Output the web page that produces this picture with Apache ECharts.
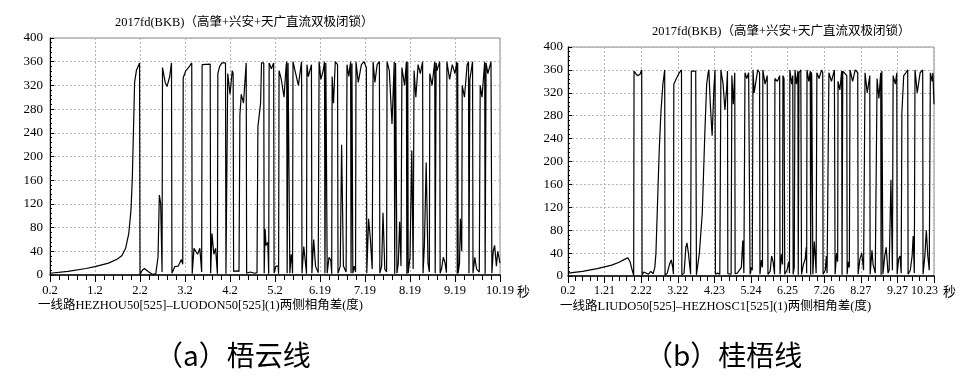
<!DOCTYPE html>
<html><head><meta charset="utf-8">
<script src="https://cdn.jsdelivr.net/npm/echarts@6/dist/echarts.min.js"></script>
<style>html,body{margin:0;padding:0;background:#fff}#c{width:967px;height:390px}</style>
</head><body><div id="c"></div>
<script>
// ---------- data ----------
const T0 = 0.2; // first time on both time axes (s)
const TITLE = '2017fd(BKB)（高肇+兴安+天广直流双极闭锁）';
const X_LABELS_A = ['0.2','1.2','2.2','3.2','4.2','5.2','6.19','7.19','8.19','9.19','10.19'];
const X_LABELS_B = ['0.2','1.21','2.22','3.22','4.23','5.24','6.25','7.26','8.27','9.27','10.23'];
const Y_LABELS = ['0','40','80','120','160','200','240','280','320','360','400'];
const NAME_A = '一线路HEZHOU50[525]–LUODON50[525](1)两侧相角差(度)';
const NAME_B = '一线路LIUDO50[525]–HEZHOSC1[525](1)两侧相角差(度)';
const CAP_A = '（a）梧云线';
const CAP_B = '（b）桂梧线';

// [time s, angle deg]
const ANGLE_A = [
[0.2,3],[0.6,6],[1.0,11],[1.2,14],[1.5,20],[1.7,27],[1.8,33],[1.88,45],[1.95,70],[2.0,110],[2.03,165],[2.06,260],[2.08,325],[2.12,345],[2.19,358],
[2.2,1],[2.25,8],[2.3,11],[2.38,6],[2.48,1],[2.55,2],[2.6,30],[2.63,135],[2.66,120],[2.69,5],
[2.7,350],[2.76,325],[2.8,318],[2.86,335],[2.9,358],
[2.91,3],[2.97,14],[3.05,15],[3.12,26],[3.15,18],
[3.16,333],[3.22,345],[3.3,352],[3.35,358],
[3.36,2],[3.4,45],[3.44,48],[3.48,35],[3.53,45],[3.57,5],
[3.58,355],[3.76,356],
[3.77,3],[3.8,70],[3.84,35],[3.88,45],[3.92,2],
[3.93,340],[3.97,352],[4.02,358],[4.1,358],
[4.11,2],[4.14,5],
[4.15,340],[4.2,305],[4.25,345],[4.27,340],
[4.28,6],[4.35,7],[4.4,6],
[4.42,270],[4.45,305],[4.5,290],[4.56,358],
[4.57,3],[4.65,5],[4.75,3],[4.8,4],
[4.82,250],[4.88,290],[4.9,358],[4.95,358],
[4.96,3],[4.98,78],[5.0,50],[5.04,55],[5.06,2],
[5.07,358],[5.12,348],[5.17,358],
[5.18,3],[5.22,15],[5.27,15],[5.28,2],
[5.29,345],[5.34,330],[5.4,300],[5.45,355],[5.46,360],[5.47,3],[5.48,2],[5.49,358],[5.52,360],
[5.53,3],[5.56,35],[5.58,20],[5.59,3],
[5.6,360],[5.66,340],[5.72,320],[5.79,360],
[5.8,3],[5.84,48],[5.88,45],[5.9,2],
[5.91,355],[5.94,335],[5.98,335],[6.01,355],
[6.02,3],[6.06,60],[6.1,15],[6.16,4],
[6.18,360],[6.22,330],[6.27,345],[6.3,360],[6.31,3],[6.32,4],[6.33,358],[6.35,358],
[6.36,3],[6.4,30],[6.44,25],[6.46,2],
[6.47,335],[6.5,290],[6.54,360],[6.59,355],
[6.6,3],[6.65,15],[6.68,220],[6.72,15],[6.78,5],
[6.8,355],[6.84,335],[6.88,360],[6.89,3],[6.9,2],[6.91,357],[6.92,355],
[6.93,3],[6.96,15],[6.99,5],
[7.0,360],[7.05,325],[7.12,355],[7.18,360],[7.23,350],
[7.24,3],[7.28,95],[7.32,60],[7.36,10],
[7.38,360],[7.42,325],[7.47,355],[7.52,360],
[7.53,3],[7.57,15],[7.6,105],[7.64,10],[7.68,5],
[7.69,360],[7.74,345],[7.8,255],[7.85,360],[7.86,2],[7.87,3],[7.88,358],[7.9,355],
[7.91,3],[7.94,20],[7.97,90],[8.0,15],
[8.02,350],[8.08,320],[8.12,360],[8.13,2],[8.14,3],[8.15,360],
[8.16,3],[8.2,30],[8.24,210],[8.27,10],
[8.29,345],[8.33,300],[8.38,355],[8.43,340],[8.48,360],
[8.49,3],[8.52,50],[8.56,190],[8.6,20],[8.63,5],
[8.64,340],[8.69,320],[8.75,360],[8.76,3],[8.77,2],[8.78,358],[8.8,345],[8.86,360],
[8.87,3],[8.9,10],[8.94,30],[8.98,20],[9.01,4],
[9.02,360],[9.08,330],[9.14,355],[9.2,340],[9.24,360],[9.25,2],[9.26,358],
[9.27,3],[9.3,20],[9.32,95],[9.35,40],
[9.36,320],[9.41,300],[9.47,355],[9.5,360],[9.51,3],[9.52,2],[9.53,330],[9.59,360],
[9.6,3],[9.64,30],[9.68,10],[9.74,5],
[9.76,320],[9.8,300],[9.86,360],[9.87,2],[9.88,3],[9.89,358],[9.93,340],[10.0,360],
[10.02,3],[10.05,40],[10.08,50],[10.12,15],[10.15,40],[10.2,20]
];

// [time s, angle deg]
const ANGLE_B = [
[0.2,5],[0.6,8],[1.0,13],[1.4,19],[1.6,24],[1.75,29],[1.84,32],[1.9,25],[1.96,10],[2.0,1],
[2.01,358],[2.05,360],[2.1,350],[2.17,352],[2.22,360],
[2.23,2],[2.28,7],[2.33,5],[2.4,3],[2.47,8],[2.53,4],[2.58,15],[2.61,40],[2.65,120],[2.7,220],[2.75,290],[2.8,335],[2.85,360],
[2.86,1],[2.92,5],[2.98,20],[3.03,28],[3.07,15],[3.09,3],
[3.1,335],[3.17,345],[3.25,355],[3.31,360],
[3.32,2],[3.38,5],[3.43,50],[3.46,58],[3.5,40],[3.56,3],
[3.58,358],[3.7,358],
[3.72,2],[3.8,40],[3.88,110],[3.95,250],[4.0,335],[4.04,355],[4.06,360],[4.1,300],[4.15,245],[4.2,330],[4.23,360],
[4.24,3],[4.3,5],[4.36,3],
[4.39,360],[4.45,335],[4.5,290],[4.55,330],[4.57,358],
[4.58,4],[4.63,6],[4.67,3],
[4.69,350],[4.73,300],[4.77,355],
[4.78,4],[4.84,5],[4.95,15],[4.99,62],[5.02,5],
[5.05,355],[5.1,345],[5.15,355],[5.18,358],
[5.19,3],[5.22,15],[5.25,10],
[5.27,360],[5.3,320],[5.35,340],[5.4,360],[5.45,355],
[5.46,3],[5.5,28],[5.53,15],
[5.54,360],[5.6,335],[5.66,350],
[5.68,3],[5.74,8],[5.78,35],[5.82,25],[5.86,3],
[5.87,345],[5.94,340],[6.0,350],
[6.01,3],[6.05,38],[6.08,20],
[6.09,350],[6.12,345],
[6.14,3],[6.2,10],[6.25,25],[6.27,5],
[6.28,360],[6.33,335],[6.36,350],
[6.37,3],[6.4,15],
[6.42,360],[6.46,335],[6.5,358],[6.51,2],[6.52,3],[6.53,355],[6.58,360],
[6.6,3],[6.65,20],[6.7,30],[6.73,50],[6.74,5],
[6.75,360],[6.8,340],[6.84,358],[6.85,2],[6.86,3],[6.87,356],[6.88,350],
[6.91,3],[6.95,60],[6.98,30],[7.0,5],
[7.02,355],[7.08,345],[7.15,360],[7.18,355],
[7.19,3],[7.25,10],[7.28,35],[7.3,5],
[7.35,355],[7.42,340],[7.5,360],
[7.52,3],[7.56,40],[7.59,25],
[7.6,340],[7.65,325],[7.7,358],[7.71,2],[7.72,3],[7.73,358],[7.75,355],[7.84,350],
[7.85,3],[7.88,25],[7.91,15],
[7.93,360],[8.0,340],[8.07,360],[8.14,355],
[8.15,3],[8.2,30],[8.25,40],[8.3,10],
[8.34,355],[8.4,320],[8.47,350],
[8.48,3],[8.53,45],[8.56,20],[8.62,5],
[8.67,345],[8.72,310],[8.77,355],[8.78,2],[8.79,3],[8.8,358],[8.82,360],
[8.83,3],[8.88,35],[8.92,50],[8.97,5],[9.0,10],[9.05,168],[9.09,10],
[9.11,350],[9.17,335],[9.21,355],
[9.22,3],[9.26,30],[9.3,35],[9.33,5],
[9.35,285],[9.4,350],[9.46,355],[9.51,360],
[9.52,3],[9.58,10],[9.63,35],[9.66,70],[9.69,5],
[9.71,360],[9.77,320],[9.85,355],[9.92,360],
[9.93,3],[9.98,35],[10.02,80],[10.06,35],[10.1,10],
[10.13,355],[10.18,340],[10.2,355],[10.23,300]
];

// ---------- chart ----------
const B_STEP = 1.003;
const serif = "'Liberation Serif','Noto Sans CJK SC',serif";
const chart = echarts.init(document.getElementById('c'), null, {renderer:'canvas'});

function yAxis(gi, margin){
  return {
    type:'value', gridIndex:gi, min:0, max:400, interval:40,
    axisLine:{show:true, lineStyle:{color:'#000', width:1}},
    axisTick:{show:true, inside:true, length:4, lineStyle:{color:'#000'}},
    minorTick:{show:true, splitNumber:5, length:2, lineStyle:{color:'#000'}},
    axisLabel:{color:'#000', fontFamily:serif, fontSize:13, margin:margin,
      formatter:v => Y_LABELS[Math.round(v/40)]},
    splitLine:{show:true, lineStyle:{color:'#b5b5b5', type:[2,2], width:1}}
  };
}
function xAxis(gi, max, interval, fmt, showMax, fs){
  return {
    type:'value', gridIndex:gi, min:0, max:max, interval:interval,
    axisLine:{show:true, onZero:false, lineStyle:{color:'#000', width:1.5}},
    axisTick:{show:true, inside:false, length:7, lineStyle:{color:'#000', width:1}},
    minorTick:{show:true, splitNumber:5, length:5, lineStyle:{color:'#000', width:1}},
    axisLabel:{color:'#000', fontFamily:serif, fontSize:fs, margin:9, formatter:fmt,
      hideOverlap:false, showMinLabel:true, showMaxLabel:showMax},
    splitLine:{show:true, lineStyle:{color:'#b5b5b5', type:[2,2], width:1}}
  };
}

const option = {
  animation:false,
  backgroundColor:'#fff',
  grid:[
    {left:50, top:38, right:467, bottom:115, show:true, borderColor:'#8a8a8a', borderWidth:1},
    {left:568, top:47, right:33, bottom:114, show:true, borderColor:'#8a8a8a', borderWidth:1}
  ],
  xAxis:[
    xAxis(0, 10, 1, v => X_LABELS_A[Math.round(v)], true, 12.5),
    xAxis(1, 10 * B_STEP, B_STEP, v => X_LABELS_B[Math.round(v / B_STEP)], false, 12)
  ],
  yAxis:[yAxis(0,7), yAxis(1,5)],
  series:[
    {type:'line', xAxisIndex:0, yAxisIndex:0, symbol:'none', data:ANGLE_A.map(p=>[p[0]-T0,p[1]]),
     lineStyle:{color:'#000', width:1.2}},
    {type:'line', xAxisIndex:1, yAxisIndex:1, symbol:'none', data:ANGLE_B.map(p=>[p[0]-T0,p[1]]),
     lineStyle:{color:'#000', width:1.2}}
  ],
  graphic:[
    {type:'text', left:115, top:16, style:{text:TITLE, font:"12.5px "+serif, fill:'#000'}},
    {type:'text', left:652, top:25, style:{text:TITLE, font:"12.5px "+serif, fill:'#000'}},
    {type:'text', left:517, top:285, style:{text:'秒', font:"13px 'Noto Sans CJK SC'", fill:'#000'}},
    {type:'text', left:911, top:285, style:{text:X_LABELS_B[10], font:"12px "+serif, fill:'#000'}},
    {type:'text', left:943, top:285, style:{text:'秒', font:"13px 'Noto Sans CJK SC'", fill:'#000'}},
    {type:'text', left:38, top:299, style:{text:NAME_A, font:"12.5px "+serif, fill:'#000'}},
    {type:'text', left:560, top:300, style:{text:NAME_B, font:"12.5px "+serif, fill:'#000'}},
    {type:'text', left:155, top:341, style:{text:CAP_A, font:"28px 'Noto Sans CJK SC'", fill:'#000'}},
    {type:'text', left:645, top:341, style:{text:CAP_B, font:"28px 'Noto Sans CJK SC'", fill:'#000'}}
  ]
};
chart.setOption(option);
</script></body></html>
